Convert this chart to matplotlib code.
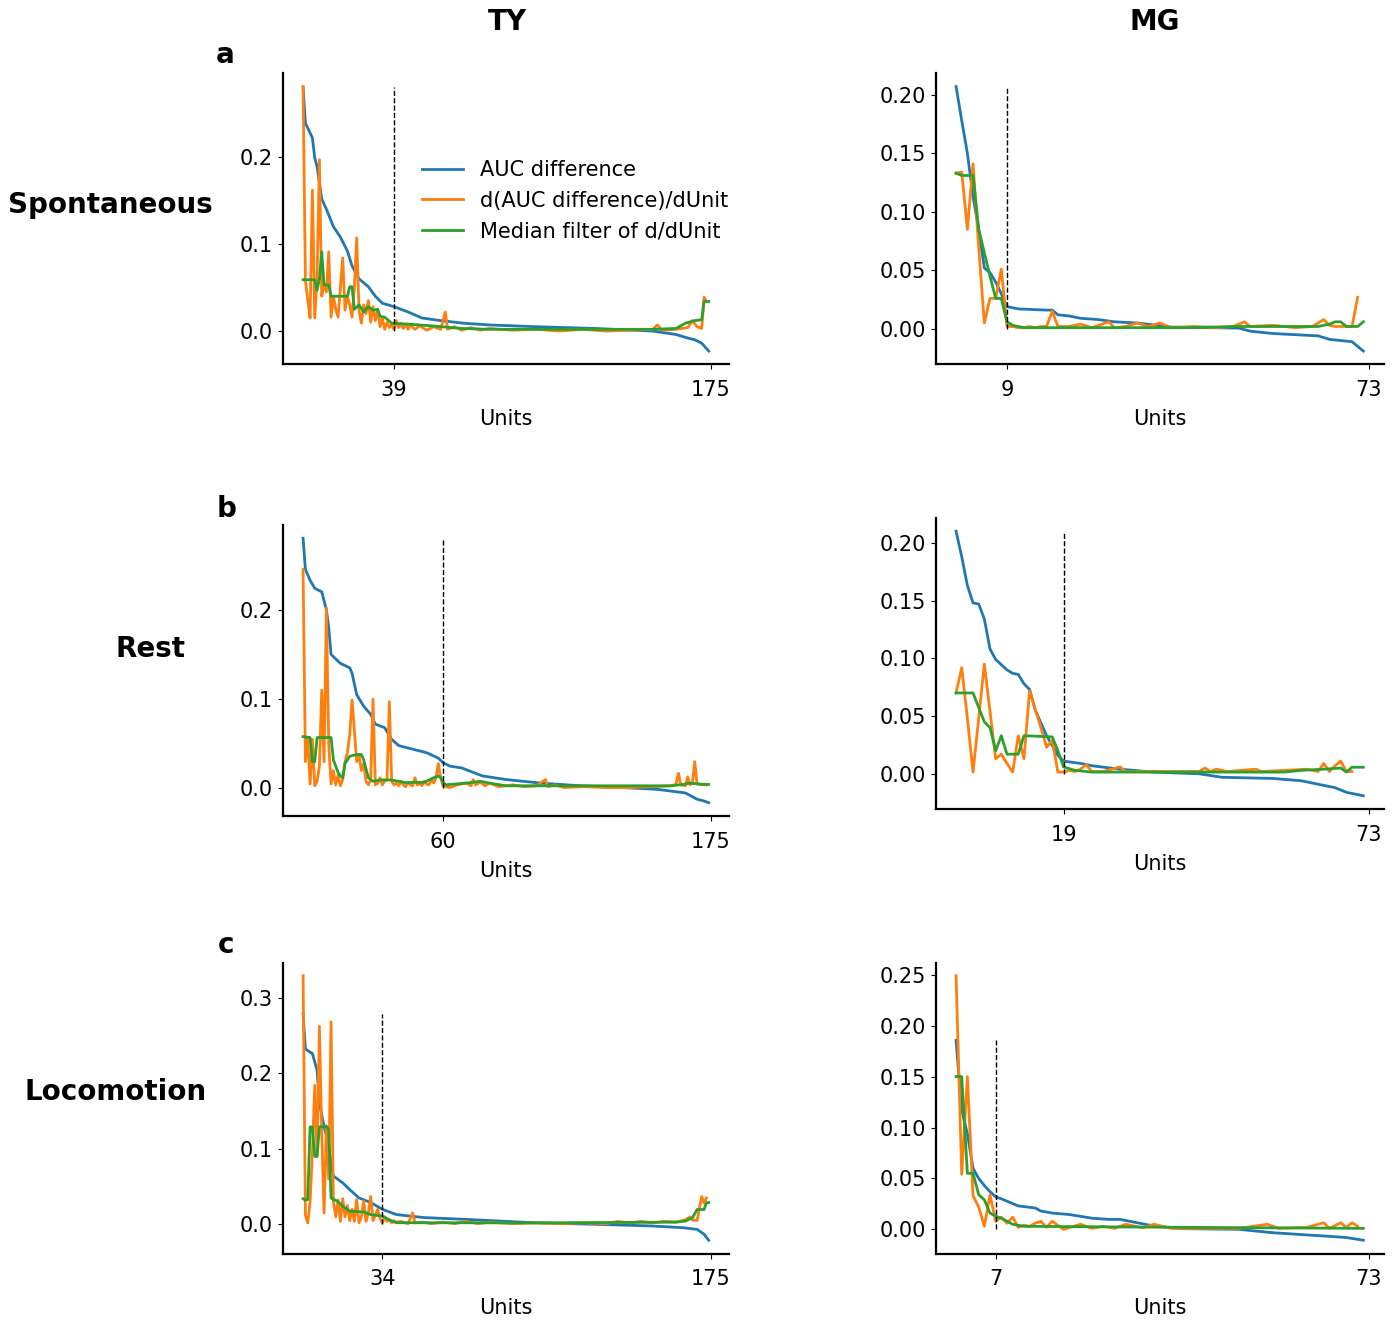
import matplotlib.pyplot as plt

# ---------------- data ----------------
# TY / spontaneous
ty_spont_n, ty_spont_thr = 175, 39
ty_spont_auc = [(0, 0.280), (1, 0.239), (4, 0.222), (5, 0.199), (6, 0.189), (8, 0.152), (10, 0.140),
                (13, 0.120), (16, 0.108), (19, 0.092), (21, 0.075), (24, 0.060), (28, 0.051), (31, 0.040),
                (34, 0.032), (39, 0.028), (45, 0.022), (51, 0.015), (59, 0.012), (69, 0.009), (80, 0.007),
                (100, 0.005), (125, 0.003), (150, 0.000), (160, -0.004), (165, -0.008), (168, -0.010),
                (171, -0.014), (174, -0.023)]
ty_spont_diff_head = [0.281, 0.058, 0.036, 0.015, 0.162, 0.015, 0.060, 0.197, 0.040, 0.054,
                      0.045, 0.091, 0.016, 0.040, 0.025, 0.016, 0.050, 0.084, 0.024, 0.040,
                      0.030, 0.016, 0.050, 0.107, 0.024, 0.009, 0.030, 0.020, 0.035, 0.010,
                      0.028, 0.012, 0.025, 0.005, 0.015, 0.002, 0.010, 0.004, 0.008, 0.002,
                      0.012, 0.004, 0.009, 0.003, 0.008, 0.002]
ty_spont_diff_tail = [(46, 0.007), (48, 0.002), (50, 0.006), (53, 0.001), (56, 0.005), (59, 0.002),
                      (61, 0.022), (62, 0.002), (65, 0.005), (68, 0.001), (72, 0.004), (76, 0.001),
                      (80, 0.003), (90, 0.001), (100, 0.002), (110, 0.000), (120, 0.002), (130, 0.000),
                      (140, 0.001), (150, 0.002), (152, 0.007), (154, 0.001), (160, 0.002), (165, 0.004),
                      (167, 0.012), (169, 0.005), (171, 0.003), (172, 0.039), (173, 0.034)]
ty_spont_med = [(0, 0.059), (5, 0.059), (6, 0.047), (7, 0.060), (8, 0.091), (9, 0.053), (11, 0.053),
                (12, 0.040), (19, 0.040), (20, 0.051), (21, 0.051), (22, 0.025), (24, 0.030), (26, 0.022),
                (28, 0.028), (30, 0.024), (32, 0.025), (33, 0.017), (35, 0.016), (38, 0.009), (45, 0.008),
                (55, 0.006), (68, 0.003), (80, 0.002), (150, 0.002), (160, 0.003), (164, 0.009),
                (168, 0.012), (171, 0.013), (172, 0.034), (174, 0.034)]

# MG / spontaneous
mg_spont_n, mg_spont_thr = 73, 9
mg_spont_auc = [(0, 0.207), (1, 0.178), (2, 0.150), (3, 0.113), (4, 0.085), (5, 0.052), (6, 0.048),
                (7, 0.040), (8, 0.030), (9, 0.019), (11, 0.017), (16, 0.016), (17, 0.016), (18, 0.012),
                (20, 0.011), (22, 0.009), (25, 0.008), (28, 0.006), (32, 0.005), (38, 0.0015),
                (50, 0.0006), (52, -0.002), (56, -0.004), (64, -0.006), (66, -0.009), (70, -0.011),
                (71, -0.015), (72, -0.019)]
mg_spont_diff_head = [0.133, 0.134, 0.085, 0.141, 0.070, 0.005, 0.026, 0.026, 0.051, 0.002,
                      0.002, 0.001, 0.001, 0.002, 0.001, 0.002, 0.002, 0.015, 0.002]
mg_spont_diff_tail = [(20, 0.002), (22, 0.004), (24, 0.001), (27, 0.006), (28, 0.001), (30, 0.002),
                      (32, 0.005), (34, 0.002), (36, 0.005), (38, 0.001), (42, 0.002), (46, 0.001),
                      (49, 0.002), (51, 0.006), (52, 0.002), (56, 0.003), (60, 0.001), (63, 0.002),
                      (64, 0.005), (65, 0.008), (66, 0.003), (67, 0.002), (70, 0.002), (71, 0.027)]
mg_spont_med = [(0, 0.133), (1, 0.131), (3, 0.131), (4, 0.085), (5, 0.065), (6, 0.045), (7, 0.026),
                (8, 0.026), (9, 0.006), (10, 0.003), (12, 0.001), (40, 0.001), (50, 0.002), (64, 0.002),
                (66, 0.004), (67, 0.006), (68, 0.006), (69, 0.002), (71, 0.002), (72, 0.006)]

# TY / rest
ty_rest_n, ty_rest_thr = 175, 60
ty_rest_auc = [(0, 0.280), (1, 0.245), (3, 0.233), (5, 0.224), (8, 0.220), (10, 0.200), (11, 0.180),
               (12, 0.150), (16, 0.140), (20, 0.135), (21, 0.129), (23, 0.105), (26, 0.092), (29, 0.083),
               (31, 0.072), (35, 0.068), (38, 0.055), (41, 0.048), (47, 0.044), (53, 0.040), (58, 0.034),
               (60, 0.029), (63, 0.025), (68, 0.023), (73, 0.018), (77, 0.014), (87, 0.010), (102, 0.006),
               (119, 0.003), (137, 0.001), (152, -0.001), (164, -0.005), (169, -0.012), (172, -0.014),
               (174, -0.016)]
ty_rest_diff_head = [0.245, 0.030, 0.057, 0.005, 0.055, 0.003, 0.008, 0.025, 0.110, 0.030,
                     0.202, 0.050, 0.005, 0.020, 0.004, 0.015, 0.003, 0.010, 0.030, 0.040,
                     0.060, 0.099, 0.065, 0.030, 0.038, 0.020, 0.028, 0.008, 0.004, 0.010,
                     0.100, 0.004, 0.006, 0.012, 0.004, 0.008, 0.010, 0.097, 0.008, 0.004,
                     0.006, 0.003, 0.008, 0.004, 0.002, 0.007, 0.004, 0.003, 0.012, 0.004,
                     0.006, 0.003, 0.008, 0.005, 0.004, 0.010, 0.006, 0.012, 0.028, 0.012,
                     0.003]
ty_rest_diff_tail = [(61, 0.002), (63, 0.001), (66, 0.004), (70, 0.006), (72, 0.003), (73, 0.010),
                     (74, 0.004), (76, 0.007), (78, 0.003), (80, 0.006), (84, 0.002), (90, 0.004),
                     (95, 0.002), (100, 0.003), (104, 0.010), (105, 0.002), (108, 0.004), (112, 0.001),
                     (120, 0.002), (130, 0.001), (140, 0.001), (150, 0.002), (158, 0.003), (160, 0.005),
                     (161, 0.017), (162, 0.004), (164, 0.003), (165, 0.013), (166, 0.004), (167, 0.006),
                     (168, 0.030), (169, 0.005), (171, 0.004), (172, 0.005), (173, 0.004)]
ty_rest_med = [(0, 0.058), (3, 0.057), (4, 0.030), (5, 0.030), (6, 0.057), (12, 0.057), (13, 0.032),
               (15, 0.018), (16, 0.014), (17, 0.012), (18, 0.028), (20, 0.036), (23, 0.038), (25, 0.038),
               (26, 0.032), (28, 0.012), (30, 0.008), (33, 0.0095), (38, 0.0095), (44, 0.0065),
               (52, 0.007), (56, 0.012), (58, 0.014), (59, 0.012), (61, 0.004), (63, 0.0045),
               (70, 0.006), (76, 0.008), (80, 0.006), (87, 0.003), (158, 0.003), (163, 0.0045),
               (166, 0.006), (172, 0.0045), (174, 0.0045)]

# MG / rest
mg_rest_n, mg_rest_thr = 73, 19
mg_rest_auc = [(0, 0.210), (1, 0.188), (2, 0.163), (3, 0.148), (4, 0.147), (5, 0.134), (6, 0.108),
               (7, 0.099), (9, 0.090), (10, 0.087), (11, 0.086), (12, 0.078), (13, 0.073), (14, 0.055),
               (16, 0.033), (18, 0.016), (19, 0.011), (22, 0.009), (24, 0.007), (29, 0.004),
               (35, 0.0015), (43, 0.0), (47, -0.003), (56, -0.004), (61, -0.006), (65, -0.010),
               (67, -0.012), (69, -0.016), (72, -0.019)]
mg_rest_diff_head = [0.070, 0.092, 0.048, 0.0015, 0.048, 0.095, 0.054, 0.013, 0.017, 0.009,
                     0.0015, 0.033, 0.013, 0.072, 0.056, 0.040, 0.023, 0.029, 0.0015, 0.0015,
                     0.003, 0.002, 0.004, 0.008, 0.002]
mg_rest_diff_tail = [(26, 0.002), (29, 0.006), (30, 0.002), (34, 0.002), (40, 0.002), (43, 0.002),
                     (44, 0.005), (45, 0.002), (46, 0.004), (48, 0.002), (53, 0.004), (54, 0.002),
                     (58, 0.003), (62, 0.004), (64, 0.002), (65, 0.009), (66, 0.002), (67, 0.007),
                     (68, 0.011), (69, 0.002), (70, 0.002)]
mg_rest_med = [(0, 0.070), (3, 0.070), (5, 0.045), (6, 0.040), (7, 0.020), (8, 0.033), (9, 0.017),
               (11, 0.017), (12, 0.033), (17, 0.032), (18, 0.020), (19, 0.006), (21, 0.003),
               (24, 0.0015), (58, 0.0015), (61, 0.003), (65, 0.004), (68, 0.005), (69, 0.0015),
               (70, 0.0057), (72, 0.0057)]

# TY / locomotion
ty_loco_n, ty_loco_thr = 175, 34
ty_loco_auc = [(0, 0.2785), (1, 0.232), (4, 0.226), (6, 0.204), (7, 0.160), (9, 0.130), (11, 0.105),
               (12, 0.080), (13, 0.064), (17, 0.055), (20, 0.046), (24, 0.035), (29, 0.029), (34, 0.020),
               (40, 0.013), (46, 0.011), (52, 0.009), (70, 0.0066), (99, 0.0022), (127, 0.0),
               (149, -0.002), (163, -0.0044), (169, -0.0066), (172, -0.013), (174, -0.021)]
ty_loco_diff_head = [0.329, 0.012, 0.002, 0.030, 0.095, 0.184, 0.090, 0.262, 0.120, 0.015,
                     0.130, 0.060, 0.268, 0.030, 0.010, 0.032, 0.004, 0.034, 0.010, 0.025,
                     0.005, 0.020, 0.004, 0.033, 0.002, 0.010, 0.031, 0.004, 0.015, 0.037,
                     0.005, 0.012, 0.020, 0.008, 0.002, 0.010, 0.004, 0.006, 0.002, 0.005,
                     0.003]
ty_loco_diff_tail = [(42, 0.004), (45, 0.001), (47, 0.015), (48, 0.002), (51, 0.003), (55, 0.001),
                     (60, 0.003), (65, 0.001), (70, 0.004), (75, 0.001), (80, 0.003), (90, 0.001),
                     (100, 0.002), (110, 0.001), (120, 0.002), (130, 0.001), (135, 0.004), (140, 0.002),
                     (145, 0.004), (150, 0.002), (155, 0.004), (160, 0.003), (164, 0.006), (166, 0.010),
                     (167, 0.006), (169, 0.005), (171, 0.037), (172, 0.028), (173, 0.035)]
ty_loco_med = [(0, 0.034), (1, 0.032), (2, 0.033), (3, 0.129), (4, 0.129), (5, 0.090), (6, 0.090),
               (7, 0.129), (10, 0.130), (11, 0.125), (12, 0.035), (15, 0.030), (17, 0.024), (20, 0.0175),
               (26, 0.0165), (29, 0.013), (34, 0.011), (37, 0.006), (40, 0.0022), (100, 0.002),
               (160, 0.003), (164, 0.0044), (167, 0.0088), (169, 0.0197), (172, 0.0197), (173, 0.0285),
               (174, 0.029)]

# MG / locomotion
mg_loco_n, mg_loco_thr = 73, 7
mg_loco_auc = [(0, 0.1855), (1, 0.117), (2, 0.094), (3, 0.060), (4, 0.050), (5, 0.043), (6, 0.037),
               (7, 0.032), (8, 0.030), (11, 0.023), (14, 0.021), (15, 0.018), (17, 0.016), (20, 0.0146),
               (24, 0.011), (27, 0.0098), (29, 0.0098), (32, 0.0065), (35, 0.0033), (40, 0.0007),
               (50, 0.0), (56, -0.0033), (65, -0.0065), (69, -0.008), (72, -0.0107)]
mg_loco_diff_head = [0.249, 0.054, 0.150, 0.033, 0.022, 0.003, 0.034, 0.008, 0.012, 0.006,
                     0.012, 0.002, 0.004, 0.003, 0.006, 0.008, 0.002]
mg_loco_diff_tail = [(17, 0.008), (19, 0.000), (22, 0.005), (24, 0.001), (26, 0.003), (28, 0.001),
                     (30, 0.005), (33, 0.0016), (35, 0.005), (38, 0.001), (45, 0.001), (50, 0.001),
                     (55, 0.005), (57, 0.001), (62, 0.002), (65, 0.0065), (66, 0.001), (68, 0.0065),
                     (69, 0.002), (70, 0.0065), (71, 0.003)]
mg_loco_med = [(0, 0.150), (1, 0.150), (2, 0.055), (3, 0.055), (4, 0.034), (5, 0.029), (6, 0.016),
               (7, 0.013), (8, 0.011), (10, 0.005), (12, 0.003), (40, 0.002), (72, 0.001)]


def draw(ax, n, thr, auc, diff_head, diff_tail, med):
    ax_x, ax_y = zip(*auc)
    d_x = list(range(len(diff_head))) + [p[0] for p in diff_tail]
    d_y = list(diff_head) + [p[1] for p in diff_tail]
    m_x, m_y = zip(*med)
    ax.plot(ax_x, ax_y, color='C0', lw=2, label='AUC difference')
    ax.plot(d_x, d_y, color='C1', lw=2, label='d(AUC difference)/dUnit')
    ax.plot(m_x, m_y, color='C2', lw=2, label='Median filter of d/dUnit')
    ax.vlines(thr, 0, max(ax_y), colors='k', linestyles='--', linewidth=1)
    ax.set_xticks([thr, n])
    ax.set_xlabel('Units', fontsize=15, labelpad=6.5)
    ax.tick_params(labelsize=15)
    ax.tick_params(axis='x', pad=8)
    ax.spines['top'].set_visible(False)
    ax.spines['right'].set_visible(False)


plt.rcParams['axes.linewidth'] = 1.6
fig = plt.figure(figsize=(13.98, 13.23), dpi=100)

W, H = 1398, 1323
lx, lw = 282.8 / W, 446.2 / W
rx, rw = 935.7 / W, 448.0 / W
h = 291 / H

ax_tl = fig.add_axes([lx, (H - 364.3) / H, lw, h])
ax_tr = fig.add_axes([rx, (H - 364.3) / H, rw, h])
ax_ml = fig.add_axes([lx, (H - 816.0) / H, lw, h])
ax_mr = fig.add_axes([rx, (H - 809.0) / H, rw, h])
ax_bl = fig.add_axes([lx, (H - 1253.5) / H, lw, h])
ax_br = fig.add_axes([rx, (H - 1253.5) / H, rw, h])

draw(ax_tl, ty_spont_n, ty_spont_thr, ty_spont_auc, ty_spont_diff_head, ty_spont_diff_tail, ty_spont_med)
draw(ax_tr, mg_spont_n, mg_spont_thr, mg_spont_auc, mg_spont_diff_head, mg_spont_diff_tail, mg_spont_med)
draw(ax_ml, ty_rest_n, ty_rest_thr, ty_rest_auc, ty_rest_diff_head, ty_rest_diff_tail, ty_rest_med)
draw(ax_mr, mg_rest_n, mg_rest_thr, mg_rest_auc, mg_rest_diff_head, mg_rest_diff_tail, mg_rest_med)
draw(ax_bl, ty_loco_n, ty_loco_thr, ty_loco_auc, ty_loco_diff_head, ty_loco_diff_tail, ty_loco_med)
draw(ax_br, mg_loco_n, mg_loco_thr, mg_loco_auc, mg_loco_diff_head, mg_loco_diff_tail, mg_loco_med)

ax_tl.legend(loc='center', bbox_to_anchor=(0.655, 0.562), frameon=False, fontsize=15)

# column / row titles and panel letters
fig.text(507 / W, 1 - 22 / H, 'TY', fontsize=20, fontweight='bold', ha='center', va='center')
fig.text(1155 / W, 1 - 22 / H, 'MG', fontsize=20, fontweight='bold', ha='center', va='center')
fig.text(110.5 / W, 1 - 205 / H, 'Spontaneous', fontsize=20, fontweight='bold', ha='center', va='center')
fig.text(151 / W, 1 - 649 / H, 'Rest', fontsize=20, fontweight='bold', ha='center', va='center')
fig.text(115.5 / W, 1 - 1092 / H, 'Locomotion', fontsize=20, fontweight='bold', ha='center', va='center')
fig.text(225 / W, 1 - 55 / H, 'a', fontsize=20, fontweight='bold', ha='center', va='center')
fig.text(227 / W, 1 - 509 / H, 'b', fontsize=20, fontweight='bold', ha='center', va='center')
fig.text(226 / W, 1 - 945 / H, 'c', fontsize=20, fontweight='bold', ha='center', va='center')

fig.savefig('out.png', dpi=100)
